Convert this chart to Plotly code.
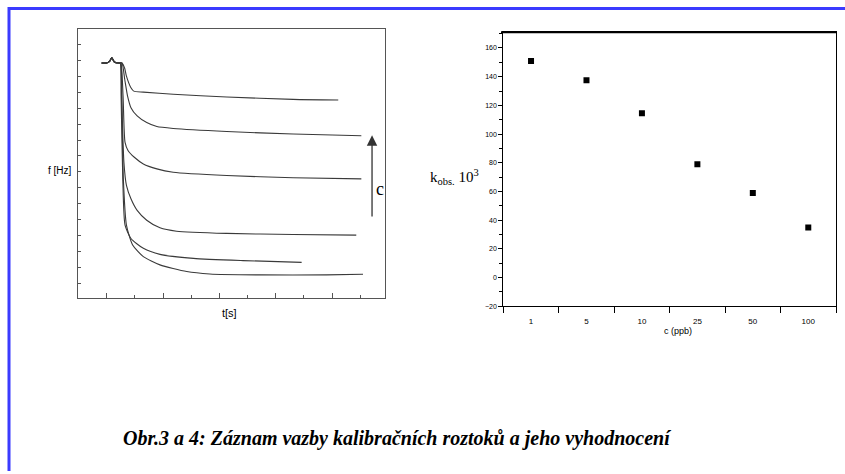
import plotly.graph_objects as go

W, H = 845, 474

# ---------------- data: left chart (binding records) ----------------
t_base = [-9, 0, 5, 9, 14, 22]
f_base = [13.85, 13.85, 13.95, 14.17, 13.9, 13.85]

t_c1 = [27, 32, 35, 43, 48, 65, 118, 213, 331, 411]
f_c1 = [13.85, 13.5, 13.02, 12.29, 12.08, 12.02, 11.88, 11.71, 11.56, 11.52]

t_c2 = [27, 32, 37, 43, 54, 71, 89, 118, 213, 331, 452]
f_c2 = [13.85, 12.81, 11.77, 11.04, 10.52, 10.10, 9.85, 9.73, 9.54, 9.38, 9.27]

t_c3 = [25, 29, 32.5, 38, 49, 65, 89, 118, 213, 331, 452]
f_c3 = [13.85, 11.77, 8.85, 8.33, 7.92, 7.5, 7.19, 6.98, 6.77, 6.63, 6.56]

t_c4 = [25, 26.5, 30.5, 35, 43, 54, 71, 94.5, 124, 213, 331, 443]
f_c4 = [13.85, 11.77, 7.6, 6.15, 5.31, 4.58, 3.96, 3.48, 3.27, 3.13, 3.06, 3.02]

t_c5 = [24, 25.5, 28.5, 32.5, 43, 65, 94.5, 154, 242, 346]
f_c5 = [13.85, 11.77, 6.56, 3.65, 2.81, 2.19, 1.81, 1.56, 1.42, 1.31]

t_c6 = [24.5, 26.5, 29.5, 35, 46, 65, 94.5, 142, 183, 272, 390, 455]
f_c6 = [13.85, 11.77, 6.56, 3.65, 2.4, 1.67, 1.15, 0.73, 0.58, 0.52, 0.52, 0.56]

curves = [(t_c1, f_c1), (t_c2, f_c2), (t_c3, f_c3), (t_c4, f_c4), (t_c5, f_c5), (t_c6, f_c6)]

# ---------------- data: right chart (k_obs vs concentration) ----------------
conc_labels = ["1", "5", "10", "25", "50", "100"]
k_obs = [151, 137.5, 114.5, 79, 59, 35]

caption = "Obr.3 a 4: Záznam vazby kalibračních roztoků a jeho vyhodnocení"


def px(x):
    return x / W


def py(y):
    return 1 - y / H


fig = go.Figure()

for t, f in curves:
    fig.add_trace(go.Scatter(
        x=t_base + t, y=f_base + f, mode="lines",
        line=dict(color="#3a3a3a", width=1.1, shape="spline", smoothing=0.6),
        xaxis="x", yaxis="y", showlegend=False, hoverinfo="skip"))

fig.add_trace(go.Scatter(
    x=conc_labels, y=k_obs, mode="markers",
    marker=dict(symbol="square", size=6, color="black"),
    xaxis="x2", yaxis="y2", showlegend=False))

sans = "Liberation Sans, Arial, sans-serif"
serif = "Liberation Serif, Times New Roman, serif"


def label(text, x, y, font, xanchor="center"):
    return dict(text=text, x=px(x), y=py(y), xref="paper", yref="paper",
                xanchor=xanchor, yanchor="middle", showarrow=False, font=font)


fig.update_layout(
    width=W, height=H,
    margin=dict(l=0, r=0, t=0, b=0),
    paper_bgcolor="white", plot_bgcolor="white",
    xaxis=dict(domain=[px(78), px(385)], range=[-51, 494],
               showgrid=False, zeroline=False, showline=True, mirror=True,
               linecolor="#555", linewidth=1,
               ticks="inside", tick0=0, dtick=100, ticklen=5, tickcolor="#555",
               minor=dict(ticks="inside", dtick=50, ticklen=3, tickcolor="#555"),
               showticklabels=False, fixedrange=True),
    yaxis=dict(domain=[py(300), py(29)], range=[-0.94, 16],
               showgrid=False, zeroline=False, showline=True, mirror=True,
               linecolor="#555", linewidth=1,
               ticks="inside", tick0=0, dtick=1, ticklen=3, tickcolor="#555",
               showticklabels=False, fixedrange=True),
    xaxis2=dict(domain=[px(503.3), px(836)], type="category",
                range=[-0.5, 5.5], tickson="boundaries",
                showgrid=False, zeroline=False, showline=True, mirror=True,
                linecolor="black", linewidth=1,
                ticks="outside", ticklen=6, tickcolor="black",
                ticklabelstandoff=7,
                tickfont=dict(family=sans, size=8, color="black"),
                anchor="y2", fixedrange=True),
    yaxis2=dict(domain=[py(308.3), py(32.7)], range=[-20, 170.8],
                showgrid=False, zeroline=False, showline=True, mirror=True,
                linecolor="black", linewidth=1,
                ticks="outside", tick0=-20, dtick=20, ticklen=4, tickcolor="black",
                minor=dict(ticks="outside", dtick=10, ticklen=3, tickcolor="black"),
                tickfont=dict(family=sans, size=7, color="black"),
                anchor="x2", fixedrange=True),
    shapes=[
        # blue page frame
        dict(type="line", xref="paper", yref="paper", x0=px(8), x1=1.0,
             y0=py(8.5), y1=py(8.5), line=dict(color="#3b3bff", width=3)),
        dict(type="line", xref="paper", yref="paper", x0=px(9), x1=px(9),
             y0=py(7), y1=0, line=dict(color="#3b3bff", width=3)),
        # thick top edge of the right chart
        dict(type="line", xref="paper", yref="paper", x0=px(501), x1=px(836),
             y0=py(32.5), y1=py(32.5), line=dict(color="black", width=2)),
    ],
    annotations=[
        label("f [Hz]", 60, 172, dict(family=sans, size=10, color="black")),
        label("t[s]", 229, 315, dict(family=sans, size=11, color="black")),
        # concentration arrow
        dict(x=471, y=9.3, ax=471, ay=4.1, xref="x", yref="y", axref="x", ayref="y",
             text="", showarrow=True, arrowhead=2, arrowsize=1.6, arrowwidth=1.3,
             arrowcolor="#333"),
        label("c", 380, 190, dict(family=serif, size=18, color="black")),
        label("k<sub>obs.</sub> 10<sup>3</sup>", 428, 178,
              dict(family=serif, size=15, color="black"), xanchor="left"),
        label("c (ppb)", 678, 333, dict(family=sans, size=9, color="black")),
        label("<b><i>" + caption + "</i></b>", 121, 441,
              dict(family=serif, size=20, color="black"), xanchor="left"),
    ],
)

fig.write_html("out.html", config={"displayModeBar": False},
               post_script="document.body.style.margin='0';")
